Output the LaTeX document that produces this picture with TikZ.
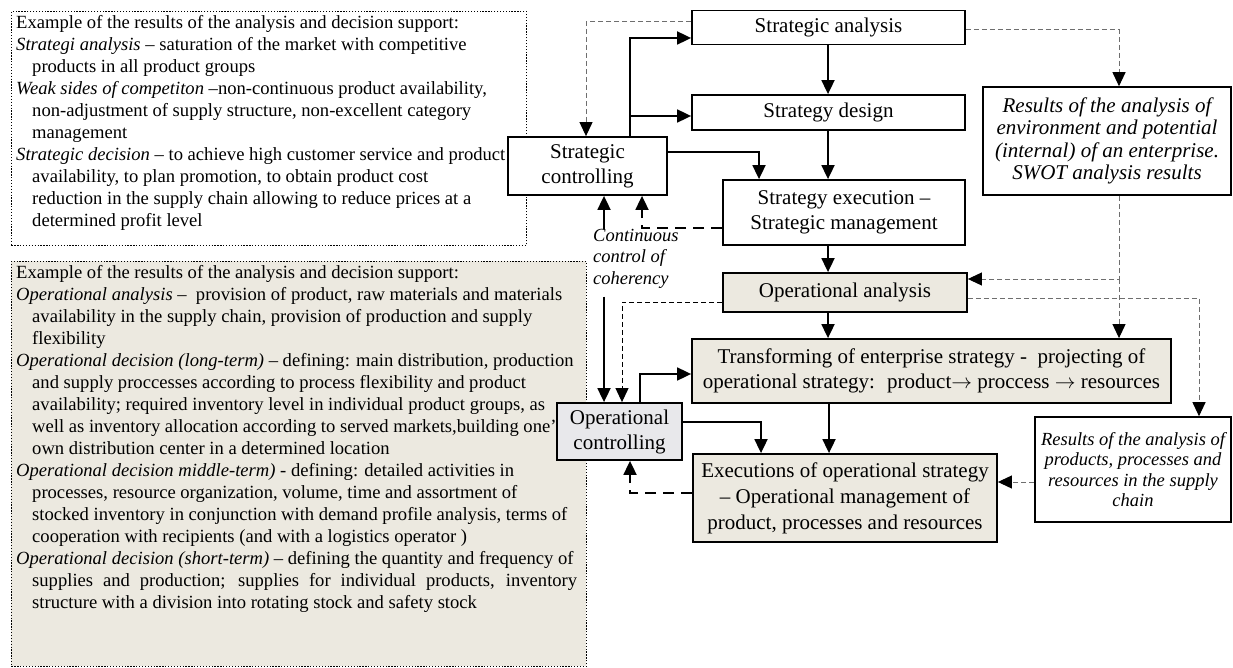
\documentclass[tikz,border=0pt]{standalone}
\usepackage{fontspec}
\setmainfont{Liberation Serif}
\usetikzlibrary{arrows.meta}
\definecolor{beige}{RGB}{236,233,224}
\definecolor{ocfill}{RGB}{232,232,235}
\definecolor{dgrey}{RGB}{110,110,110}
\newcommand{\hind}{\hspace*{16pt}}
\newcommand{\rarr}{\ensuremath{\rightarrow}}
\begin{document}
\begin{tikzpicture}[x=1pt,y=-1pt,
  box/.style={draw=black, line width=1.8pt, fill=white, inner sep=2pt, align=center, font=\fontsize{21}{25}\selectfont},
  obox/.style={box, fill=beige},
  ibox/.style={draw=black, line width=1.6pt, fill=white, inner sep=2pt, align=center, font=\fontsize{21}{22.5}\selectfont\itshape},
  ibox2/.style={draw=black, line width=1.6pt, fill=white, inner sep=2pt, align=center, font=\fontsize{18.5}{20.5}\selectfont\itshape},
  tip/.style={-{Triangle[length=14pt,width=13pt,color=black]}},
  arr/.style={line width=1.8pt, tip},
  fb/.style={arr, dash pattern=on 11pt off 7pt},
  dgl/.style={line width=1pt, draw=dgrey, dash pattern=on 5pt off 3pt, tip},
  dk/.style={line width=1pt, draw=black, dash pattern=on 5pt off 3pt, tip},
  frame/.style={draw=black, line width=0.9pt, dash pattern=on 1.3pt off 1.6pt, anchor=north west, inner sep=0pt},
  txt/.style={anchor=north west, align=left, inner sep=0pt, font=\fontsize{18.6}{22}\selectfont},
  lbl/.style={anchor=north west, align=left, inner sep=0pt, font=\fontsize{18.5}{21.5}\selectfont\itshape}
]
\fill[white] (0,0) rectangle (1233,668);
\useasboundingbox (0,0) rectangle (1233,668);

% left frames
\node[frame, minimum width=515pt, minimum height=234pt] (F1) at (11,11) {};
\node[frame, fill=beige, minimum width=575pt, minimum height=405pt] (F2) at (11,261) {};

\node[txt] (T1) at (16,15) {Example of the results of the analysis and decision support:\\
\textit{Strategi analysis} – saturation of the market with competitive\\
\hind products in all product groups\\
\textit{Weak sides of competiton} –non-continuous product availability,\\
\hind non-adjustment of supply structure, non-excellent category\\
\hind management\\
\textit{Strategic decision} – to achieve high customer service and product\\
\hind availability, to plan promotion, to obtain product cost\\
\hind reduction in the supply chain allowing to reduce prices at a\\
\hind determined profit level};

\node[txt] (T2) at (16,265) {Example of the results of the analysis and decision support:\\
\textit{Operational analysis} – \ provision of product, raw materials and materials\\
\hind availability in the supply chain, provision of production and supply\\
\hind flexibility\\
\textit{Operational decision (long-term)} – defining: main distribution, production\\
\hind and supply proccesses according to process flexibility and product\\
\hind availability; required inventory level in individual product groups, as\\
\hind well as inventory allocation according to served markets,building one'\\
\hind own distribution center in a determined location\\
\textit{Operational decision middle-term)} - defining: detailed activities in\\
\hind processes, resource organization, volume, time and assortment of\\
\hind stocked inventory in conjunction with demand profile analysis, terms of\\
\hind cooperation with recipients (and with a logistics operator )\\
\textit{Operational decision (short-term)} – defining the quantity and frequency of\\
\hind\makebox[545pt][s]{supplies and production; supplies for individual products, inventory}\\
\hind structure with a division into rotating stock and safety stock};

% main boxes
\node[box, minimum width=273pt, minimum height=34pt] (SA) at (828.5,27.5) {Strategic analysis};
\node[box, minimum width=273pt, minimum height=35pt] (SD) at (828.5,112.5) {Strategy design};
\node[box, minimum width=242pt, minimum height=65pt] (SE) at (844,212.5) {Strategy execution –\\Strategic management};
\node[box, minimum width=159pt, minimum height=58pt] (SC) at (587.5,166) {Strategic\\controlling};
\node[ibox, minimum width=248pt, minimum height=108pt] (SW) at (1107,141) {Results of the analysis of\\environment and potential\\(internal) of an enterprise.\\SWOT analysis results};
\node[obox, minimum width=244pt, minimum height=39pt] (OA) at (845,292.5) {Operational analysis};
\node[obox, minimum width=479pt, minimum height=64pt] (TR) at (931.5,371) {Transforming of enterprise strategy - \ projecting of\\operational strategy: \ product\rarr\ proccess \rarr\ resources};
\node[box, fill=ocfill, minimum width=125pt, minimum height=57pt] (OC) at (619.5,431.5) {Operational\\controlling};
\node[obox, minimum width=304pt, minimum height=88pt, font=\fontsize{21}{26}\selectfont] (EX) at (845,498) {Executions of operational strategy\\– Operational management of\\product, processes and resources};
\node[ibox2, minimum width=196pt, minimum height=105pt] (RP) at (1133,469.5) {Results of the analysis of\\products, processes and\\resources in the supply\\chain};

\node[lbl] (CC) at (593,229) {Continuous\\control of\\coherency};

\coordinate (b1) at (630,116);
\coordinate (j1) at (1119,279);

% solid connectors
\draw[arr] (SA.south -| 828,0) -- (SD.north -| 828,0);
\draw[arr] (SD.south -| 828,0) -- (SE.north -| 828,0);
\draw[arr] (SE.south -| 828,0) -- (OA.north -| 828,0);
\draw[arr] (OA.south -| 828,0) -- (TR.north -| 828,0);
\draw[arr] (TR.south -| 829,0) -- (EX.north -| 829,0);
\draw[arr] (SC.north -| 630,0) |- (SA.west |- 0,38);
\draw[arr] (b1) -- (SD.west |- b1);
\draw[arr] (SC.east |- 0,152) -| (SE.north -| 759,0);
\draw[arr] (CC.north -| 604,0) -- (SC.south -| 604,0);
\draw[arr] ([yshift=-8pt]CC.south -| 604,0) -- (OC.north -| 604,0);
\draw[arr] (OC.north -| 640,0) |- (TR.west |- 0,374);
\draw[arr] (OC.east |- 0,422) -| (EX.north -| 761,0);

% feedback dashed
\draw[fb] (SE.west |- 0,228) -| (SC.south -| 642,0);
\draw[fb] (EX.west |- 0,493) -| (OC.south -| 630,0);

% thin dashed
\draw[dgl] (SA.west |- 0,22) -| (SC.north -| 586,0);
\draw[dgl] (SA.east |- 0,30) -| (SW.north -| 1119,0);
\draw[dk] (OA.west |- 0,302) -| (OC.north -| 622,0);
\draw[dgl] (SW.south -| 1119,0) |- (OA.east |- j1);
\draw[dgl] (j1) -- (TR.north -| 1119,0);
\draw[dgl] (OA.east |- 0,298) -| (RP.north -| 1199,0);
\draw[dgl] (RP.west |- 0,482) -- (EX.east |- 0,482);
\end{tikzpicture}
\end{document}
